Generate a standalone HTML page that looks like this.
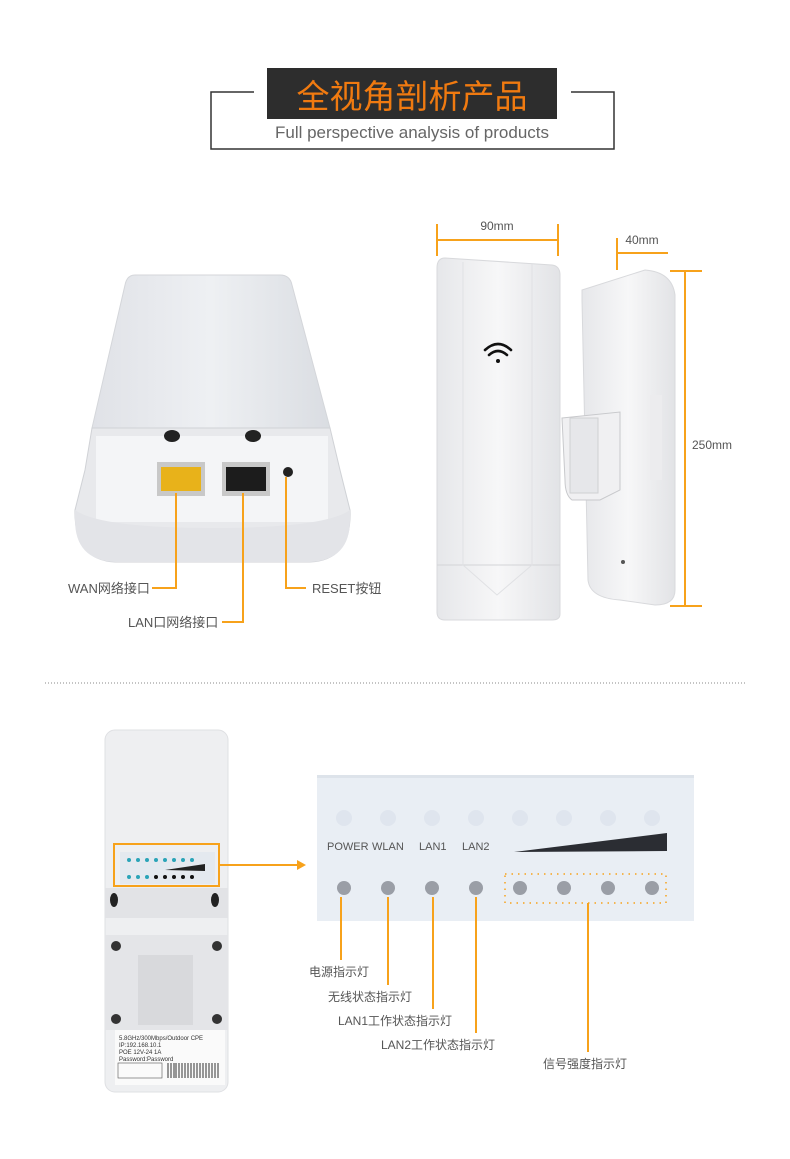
<!DOCTYPE html>
<html><head><meta charset="utf-8"><style>
html,body{margin:0;padding:0;background:#fff;}
svg{display:block;}
text{font-family:"Liberation Sans","Noto Sans CJK SC",sans-serif;}
</style></head><body>
<svg width="790" height="1159" viewBox="0 0 790 1159" xmlns="http://www.w3.org/2000/svg">
<defs>
<linearGradient id="lid" x1="0" y1="0" x2="1" y2="0"><stop offset="0" stop-color="#e0e2e7"/><stop offset="0.5" stop-color="#eef0f3"/><stop offset="1" stop-color="#dadde2"/></linearGradient>
<linearGradient id="body" x1="0" y1="0" x2="1" y2="0"><stop offset="0" stop-color="#e6e7ea"/><stop offset="0.5" stop-color="#f7f7f8"/><stop offset="1" stop-color="#e2e3e6"/></linearGradient>
</defs>
<!-- header -->
<path d="M254 92 H211 V149 H614 V92 H571" fill="none" stroke="#333" stroke-width="1.5"/>
<rect x="267" y="68" width="290" height="51" fill="#2d2d2d"/>
<text x="412" y="108" text-anchor="middle" font-size="33" fill="#f07a10">全视角剖析产品</text>
<text x="412" y="138" text-anchor="middle" font-size="17" fill="#666">Full perspective analysis of products</text>

<!-- device 1 -->
<path d="M135 275 H280 Q290 275 292 285 L330 428 H92 L125 285 Q127 275 135 275Z" fill="url(#lid)" stroke="#d4d6da"/>
<path d="M92 428 H330 L340 470 L350 510 Q352 560 310 562 H115 Q74 560 75 510 L85 470Z" fill="#e8e9ec" stroke="#d0d2d6"/>
<rect x="96" y="436" width="232" height="86" fill="#f4f5f7"/>
<path d="M75 510 Q100 528 212 528 Q325 528 350 510 L350 520 Q350 560 310 562 H115 Q75 560 75 520Z" fill="#e3e4e8"/>
<ellipse cx="172" cy="436" rx="8" ry="6" fill="#222"/>
<ellipse cx="253" cy="436" rx="8" ry="6" fill="#222"/>
<rect x="157" y="462" width="48" height="34" fill="#c8c8c8"/>
<rect x="161" y="467" width="40" height="24" fill="#e8b21a"/>
<rect x="222" y="462" width="48" height="34" fill="#c8c8c8"/>
<rect x="226" y="467" width="40" height="24" fill="#1c1c1c"/>
<circle cx="288" cy="472" r="5" fill="#222"/>
<g stroke="#f7a21b" stroke-width="2" fill="none">
<path d="M152 588 H176 V493"/>
<path d="M222 622 H243 V493"/>
<path d="M286 477 V588 H306"/>
</g>
<text x="68" y="593" font-size="13" fill="#555">WAN网络接口</text>
<text x="128" y="627" font-size="13" fill="#555">LAN口网络接口</text>
<text x="312" y="593" font-size="13" fill="#555">RESET按钮</text>

<!-- dimensions -->
<g stroke="#f7a21b" stroke-width="2" fill="none">
<path d="M437 240 H558 M437 224 V256 M558 224 V256"/>
<path d="M617 253 H668 M617 238 V270"/>
<path d="M685 271 V606 M670 271 H702 M670 606 H702"/>
</g>
<text x="497" y="230" text-anchor="middle" font-size="12" fill="#555">90mm</text>
<text x="642" y="244" text-anchor="middle" font-size="12" fill="#555">40mm</text>
<text x="712" y="449" text-anchor="middle" font-size="12" fill="#555">250mm</text>

<!-- device 2 front -->
<path d="M445 258 L552 265 Q560 266 560 275 V614 Q560 620 552 620 H445 Q437 620 437 612 V268 Q437 258 445 258Z" fill="url(#body)" stroke="#d8d9dc"/>
<path d="M437 565 H560" stroke="#d3d4d7"/>
<path d="M463 262 V565 L497 595 L532 565 V264" fill="none" stroke="#e0e1e4"/>
<g fill="none" stroke="#111" stroke-width="2.6" stroke-linecap="round">
<path d="M485 350 Q498 338 511 350"/><path d="M489 355 Q498 347 507 355"/>
</g>
<circle cx="498" cy="361" r="2" fill="#111"/>

<!-- device 3 side -->
<path d="M582 290 L645 270 Q672 272 675 295 V590 Q675 605 655 605 L620 600 Q590 598 588 580 L582 300Z" fill="url(#body)" stroke="#d8d9dc"/>
<rect x="650" y="395" width="12" height="85" fill="#ececee"/>
<path d="M562 418 L620 412 V490 L600 500 H572 Q565 495 565 480 Z" fill="#f0f0f2" stroke="#c8c9cc"/>
<rect x="570" y="418" width="28" height="75" fill="#e6e7ea" stroke="#cfd0d3"/>
<circle cx="623" cy="562" r="2" fill="#555"/>

<!-- dotted separator -->
<line x1="45" y1="683" x2="747" y2="683" stroke="#888" stroke-width="1" stroke-dasharray="1 2"/>

<!-- device 4 -->
<rect x="105" y="730" width="123" height="362" rx="10" fill="#eeeff1" stroke="#dfe0e3"/>
<rect x="120" y="852" width="95" height="32" fill="#e4e9ef"/>
<g fill="#2aa4b8">
<circle cx="129" cy="860" r="2"/><circle cx="138" cy="860" r="2"/><circle cx="147" cy="860" r="2"/><circle cx="156" cy="860" r="2"/><circle cx="165" cy="860" r="2"/><circle cx="174" cy="860" r="2"/><circle cx="183" cy="860" r="2"/><circle cx="192" cy="860" r="2"/>
<circle cx="129" cy="877" r="2"/><circle cx="138" cy="877" r="2"/><circle cx="147" cy="877" r="2"/>
</g>
<g fill="#111"><circle cx="156" cy="877" r="2"/><circle cx="165" cy="877" r="2"/><circle cx="174" cy="877" r="2"/><circle cx="183" cy="877" r="2"/><circle cx="192" cy="877" r="2"/></g>
<path d="M165 870 L205 864 V871Z" fill="#222"/>
<rect x="105" y="888" width="123" height="30" fill="#e2e3e6"/>
<ellipse cx="114" cy="900" rx="4" ry="7" fill="#222"/><ellipse cx="215" cy="900" rx="4" ry="7" fill="#222"/>
<rect x="105" y="935" width="123" height="95" fill="#e4e5e8"/>
<rect x="138" y="955" width="55" height="70" fill="#d8d9dc"/>
<circle cx="116" cy="946" r="5" fill="#333"/><circle cx="217" cy="946" r="5" fill="#333"/>
<circle cx="116" cy="1019" r="5" fill="#333"/><circle cx="217" cy="1019" r="5" fill="#333"/>
<rect x="115" y="1030" width="110" height="55" fill="#fafafa"/>
<text x="119" y="1040" font-size="6" fill="#333">5.8GHz/300Mbps/Outdoor CPE</text>
<text x="119" y="1047" font-size="6" fill="#333">IP:192.168.10.1</text>
<text x="119" y="1054" font-size="6" fill="#333">POE 12V-24 1A</text>
<text x="119" y="1061" font-size="6" fill="#333">Password:Password</text>
<rect x="118" y="1063" width="44" height="15" fill="none" stroke="#555" stroke-width="0.6"/>
<g stroke="#333" stroke-width="1"><path d="M168 1063 V1078 M171 1063 V1078 M174 1063 V1078 M176 1063 V1078 M179 1063 V1078 M182 1063 V1078 M185 1063 V1078 M188 1063 V1078 M191 1063 V1078 M194 1063 V1078 M197 1063 V1078 M200 1063 V1078 M203 1063 V1078 M206 1063 V1078 M209 1063 V1078 M212 1063 V1078 M215 1063 V1078 M218 1063 V1078"/></g>
<rect x="114" y="844" width="105" height="42" fill="none" stroke="#f7a21b" stroke-width="2"/>
<path d="M219 865 H298" stroke="#f7a21b" stroke-width="2"/>
<path d="M297 860 L306 865 L297 870Z" fill="#f7a21b"/>

<!-- zoom panel -->
<rect x="317" y="775" width="377" height="146" fill="#e9eef4"/>
<rect x="317" y="775" width="377" height="3" fill="#dde3ea"/>
<g fill="#dfe5ee"><circle cx="344" cy="818" r="8"/><circle cx="388" cy="818" r="8"/><circle cx="432" cy="818" r="8"/><circle cx="476" cy="818" r="8"/><circle cx="520" cy="818" r="8"/><circle cx="564" cy="818" r="8"/><circle cx="608" cy="818" r="8"/><circle cx="652" cy="818" r="8"/></g>
<text x="327" y="850" font-size="11" fill="#555">POWER</text>
<text x="372" y="850" font-size="11" fill="#555">WLAN</text>
<text x="419" y="850" font-size="11" fill="#555">LAN1</text>
<text x="462" y="850" font-size="11" fill="#555">LAN2</text>
<path d="M514 852 L667 833 V851 Z" fill="#2b2d33"/>
<g fill="#9a9ea6"><circle cx="344" cy="888" r="7"/><circle cx="388" cy="888" r="7"/><circle cx="432" cy="888" r="7"/><circle cx="476" cy="888" r="7"/><circle cx="520" cy="888" r="7"/><circle cx="564" cy="888" r="7"/><circle cx="608" cy="888" r="7"/><circle cx="652" cy="888" r="7"/></g>
<rect x="505" y="874" width="161" height="29" fill="none" stroke="#f7a21b" stroke-width="1.5" stroke-dasharray="1.5 5"/>
<g stroke="#f7a21b" stroke-width="2" fill="none">
<path d="M341 897 V960"/><path d="M388 897 V985"/><path d="M433 897 V1009"/><path d="M476 897 V1033"/><path d="M588 903 V1052"/>
</g>
<text x="309" y="976" font-size="12" fill="#555">电源指示灯</text>
<text x="328" y="1001" font-size="12" fill="#555">无线状态指示灯</text>
<text x="338" y="1025" font-size="12" fill="#555">LAN1工作状态指示灯</text>
<text x="381" y="1049" font-size="12" fill="#555">LAN2工作状态指示灯</text>
<text x="543" y="1068" font-size="12" fill="#555">信号强度指示灯</text>
</svg>
</body></html>
